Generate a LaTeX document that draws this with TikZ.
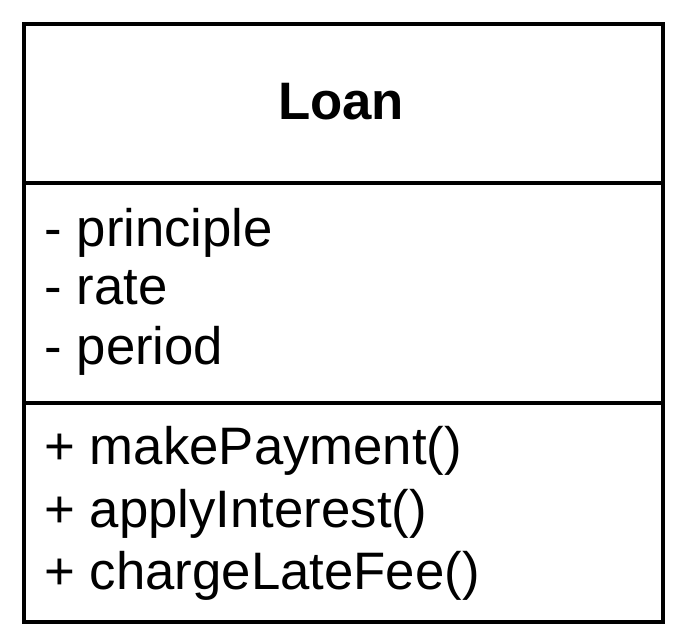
\documentclass[tikz,border=0pt]{standalone}
\usepackage{fontspec}
\setmainfont{Liberation Sans}
\tikzset{
    member/.style={anchor=base west, inner sep=0pt, font=\fontsize{30}{36}\selectfont},
    classname/.style={anchor=base, inner sep=0pt, font=\fontsize{30}{36}\selectfont\bfseries}
}
\begin{document}
\begin{tikzpicture}[line width=1.8pt]
        \useasboundingbox (0, 0) rectangle (14, 12.88);
        % Riquadro della classe e separatori
        \coordinate (top_left) at (0.48, 12.4);
        \coordinate (bottom_right) at (13.26, 0.44);
        \draw (top_left) rectangle (bottom_right);
        \draw (0.48, 9.22) -- (13.26, 9.22);
        \draw (0.48, 4.82) -- (13.26, 4.82);

        % Nome della classe
        \node[classname] (loan_node) at (6.82, 10.48) {Loan};

        % Attributi
        \node[member] (principle_node) at (0.86, 7.94) {- principle};
        \node[member] (rate_node) at (0.86, 6.78) {- rate};
        \node[member] (period_node) at (0.86, 5.58) {- period};

        % Metodi
        \node[member] (payment_node) at (0.86, 3.58) {+ makePayment()};
        \node[member] (interest_node) at (0.86, 2.32) {+ applyInterest()};
        \node[member] (fee_node) at (0.86, 1.08) {+ chargeLateFee()};
    \end{tikzpicture}
\end{document}
